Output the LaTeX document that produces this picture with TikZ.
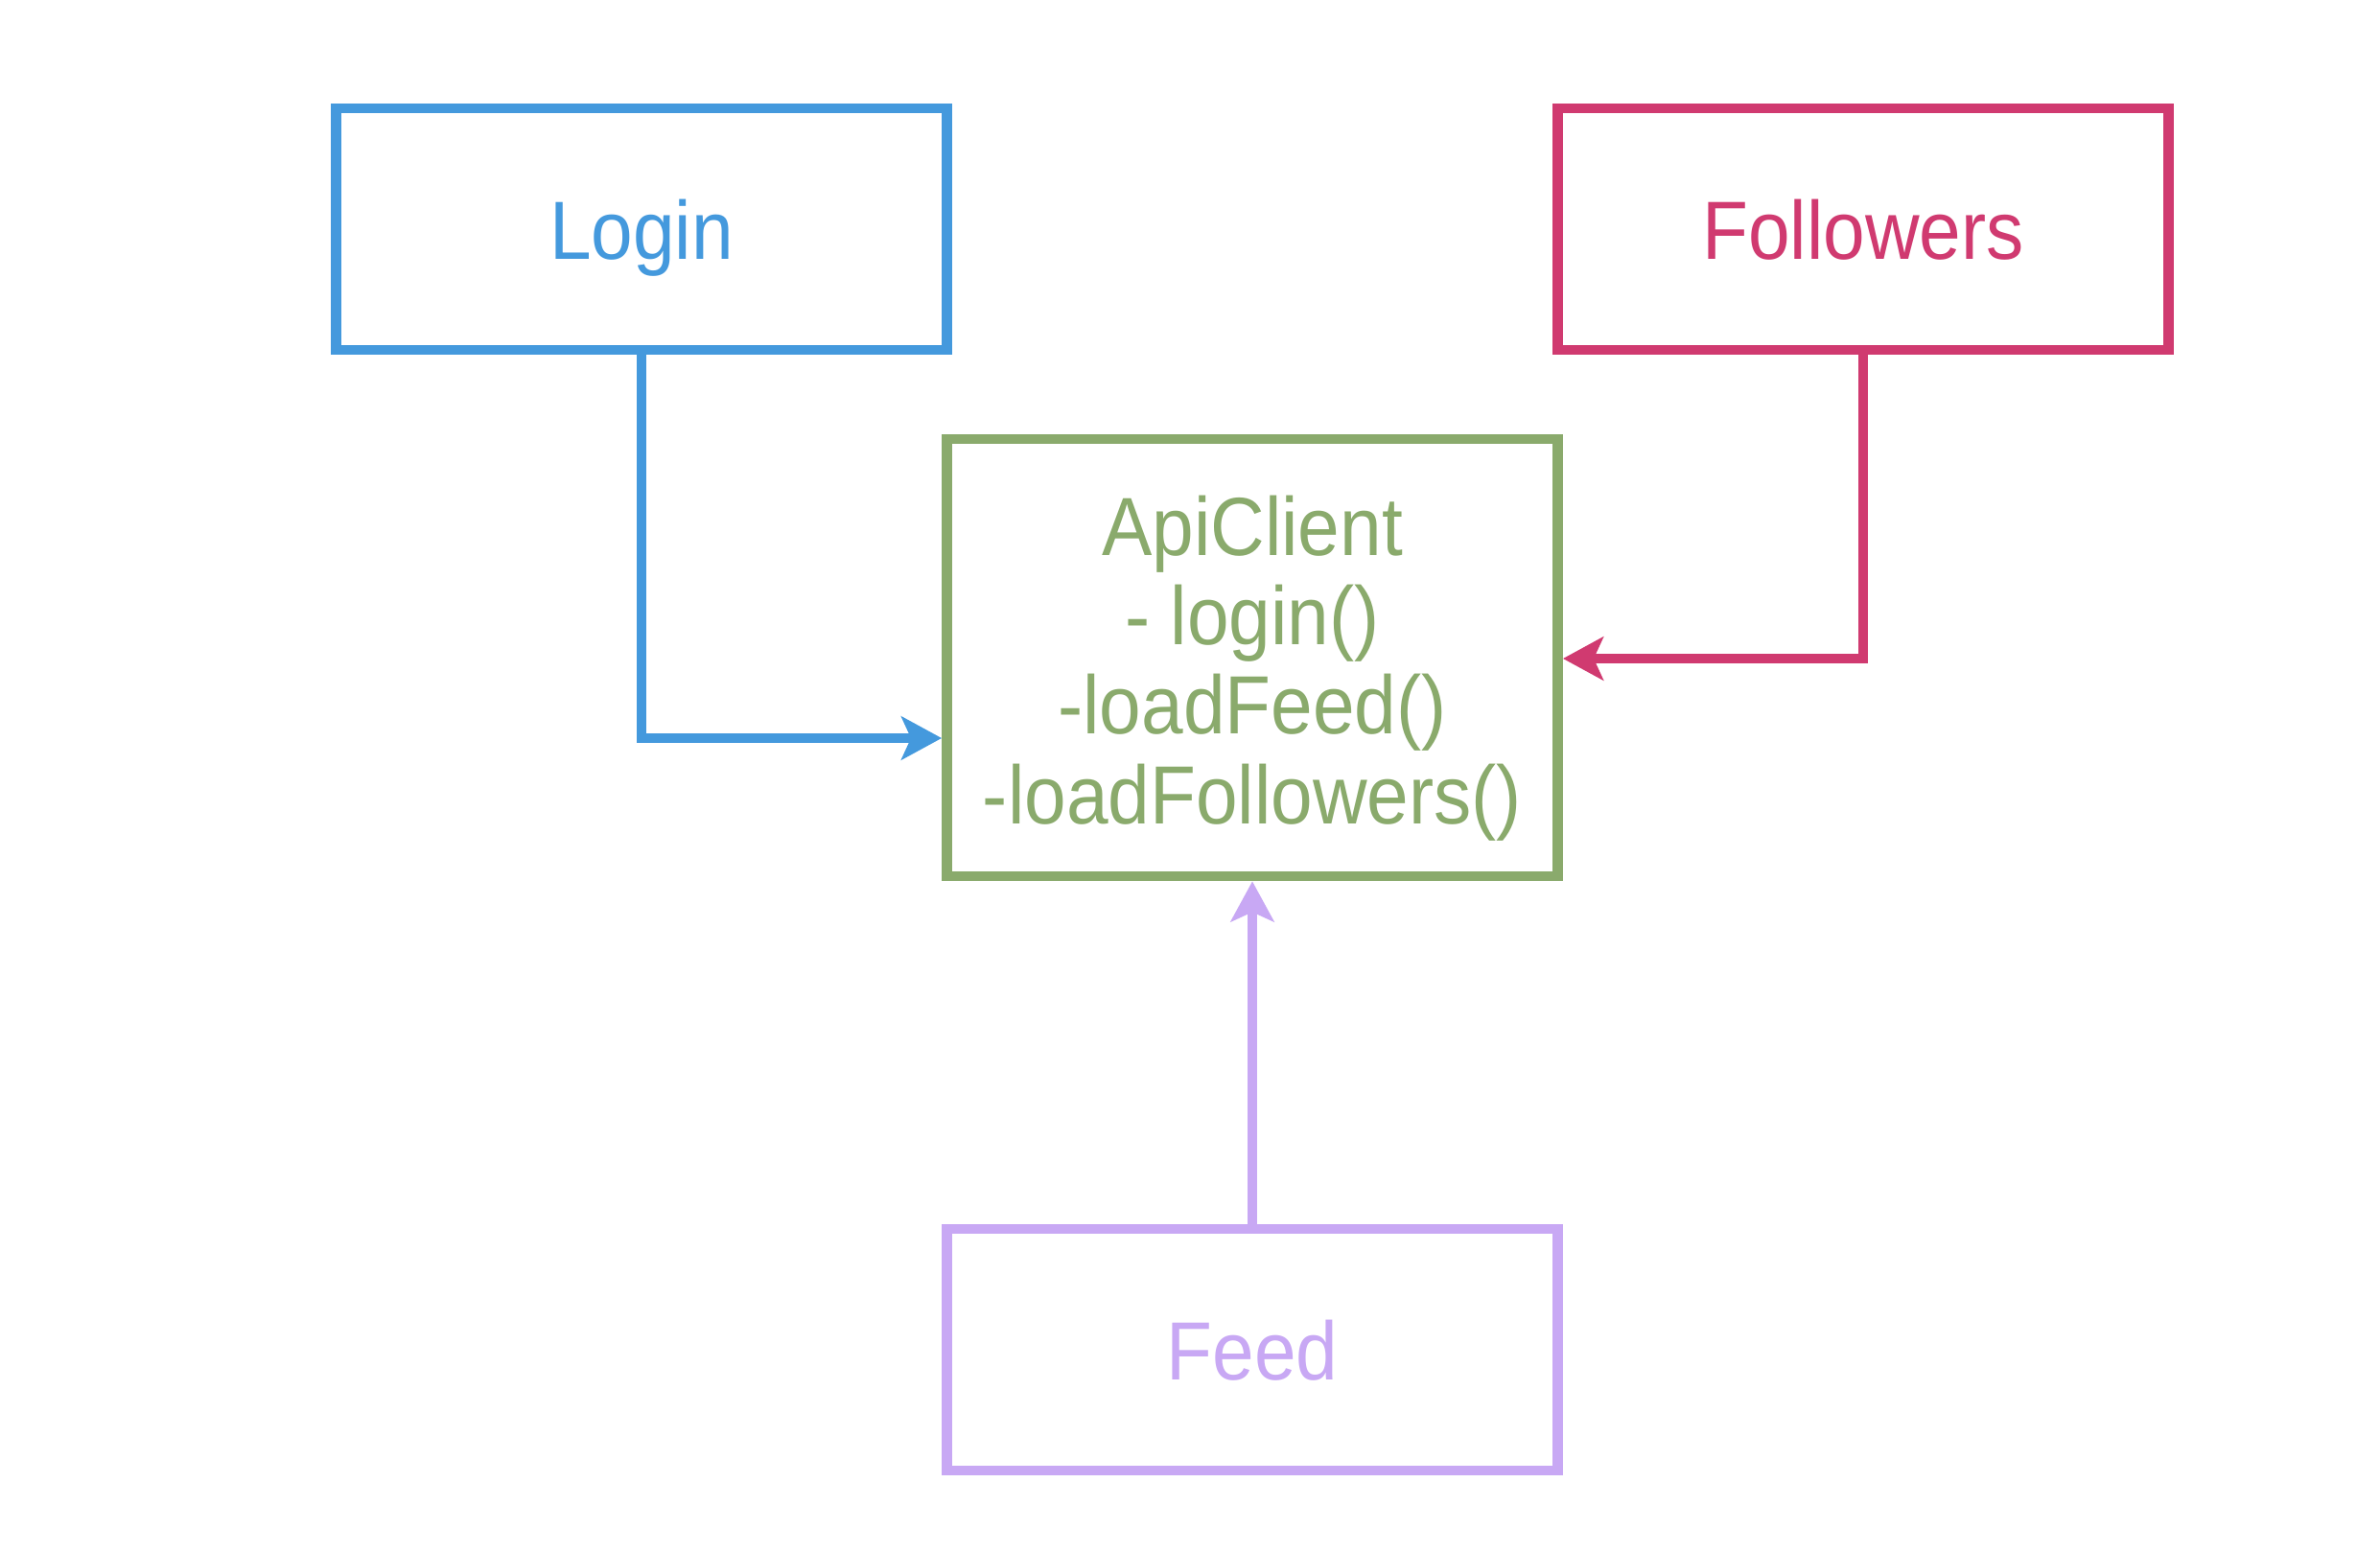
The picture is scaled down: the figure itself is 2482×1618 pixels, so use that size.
\documentclass[tikz,border=0pt]{standalone}
\usepackage{fontspec}
\setmainfont{Liberation Sans}
\newfontfamily\diagfont[FakeStretch=0.91]{Liberation Sans}
\usetikzlibrary{arrows.meta}
\definecolor{cblue}{RGB}{68,153,221}
\definecolor{cpink}{RGB}{208,58,112}
\definecolor{cgreen}{RGB}{138,170,108}
\definecolor{cpurple}{RGB}{200,168,244}
\tikzset{
  boxnode/.style={draw, line width=0.105cm, rectangle, inner sep=0pt,
    minimum width=6.37cm, font=\diagfont\fontsize{24.5}{26.5}\selectfont, align=center, text depth=0pt},
  textnode/.style={inner sep=0pt, font=\diagfont\fontsize{24.5}{26.5}\selectfont, align=center},
  conn/.style={line width=0.105cm, -{Stealth[length=0.42cm,width=0.45cm,inset=0.1cm]}}
}
\begin{document}
\begin{tikzpicture}[x=0.01cm,y=-0.01cm]
\useasboundingbox[fill=white] (0,0) rectangle (2482,1618);
\node[boxnode, draw=cblue, text=cblue, minimum height=2.52cm] (login) at (669,239) {Login};
\node[boxnode, draw=cpink, text=cpink, minimum height=2.52cm] (followers) at (1943,239) {Followers};
\node[boxnode, draw=cgreen, minimum width=6.37cm, minimum height=4.56cm] (api) at (1306,686) {};
\node[textnode, text=cgreen] (apitext) at (1306,697)
  {ApiClient\\- login()\\-loadFeed()\\-loadFollowers()};
\node[boxnode, draw=cpurple, text=cpurple, minimum width=6.37cm, minimum height=2.52cm] (feed) at (1306,1408) {Feed};
\coordinate (lc) at (669,770);
\coordinate (fc) at (1943,687);
\draw[conn, cblue] (login.south) -- (lc) -- (api.west |- lc);
\draw[conn, cpink] (followers.south) -- (fc) -- (api.east |- fc);
\draw[conn, cpurple] (feed.north) -- (api.south);
\end{tikzpicture}
\end{document}
